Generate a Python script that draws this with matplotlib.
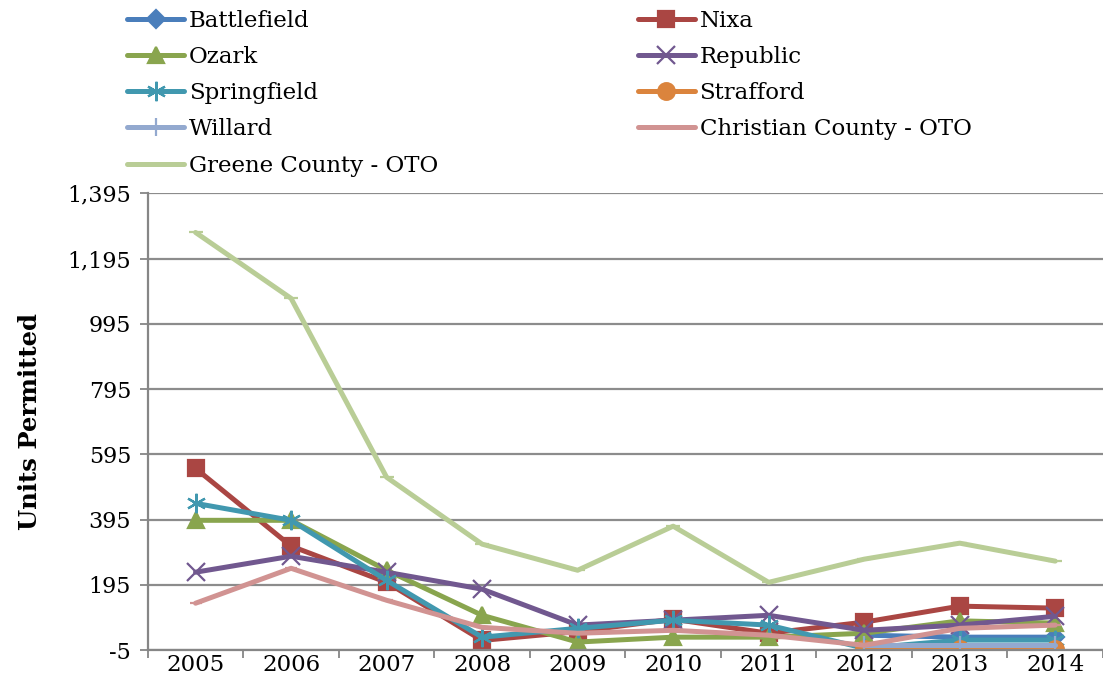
import numpy as np
import matplotlib
matplotlib.use("Agg")
import matplotlib.pyplot as plt

plt.rcParams['font.family'] = ['DejaVu Serif']

years = ['2005', '2006', '2007', '2008', '2009', '2010', '2011', '2012', '2013', '2014']
nan = np.nan

# units permitted per year
battlefield = [nan, nan, nan, nan, nan, nan, nan, 41, 35, 35]
nixa = [552, 314, 203, 25, 52, 90, 47, 81, 130, 124]
ozark = [393, 393, 240, 102, 20, 35, 35, 47, 85, 78]
republic = [234, 283, 234, 182, 72, 87, 102, 56, 72, 99]
springfield = [445, 393, 209, 35, 62, 87, 72, 1, 26, 26]
strafford = [nan, nan, nan, nan, nan, nan, nan, 0, 0, 0]
willard = [nan, nan, nan, nan, nan, nan, nan, 10, 10, 10]
christian = [139, 246, 148, 65, 47, 56, 41, 10, 62, 72]
greene = [1275, 1073, 525, 320, 240, 375, 203, 274, 323, 268]

series = [
    ('Battlefield', battlefield, '#4A7EBB', 'D', 9),
    ('Nixa', nixa, '#AA4643', 's', 11),
    ('Ozark', ozark, '#89A54E', '^', 11),
    ('Republic', republic, '#71588F', 'x', 13),
    ('Springfield', springfield, '#4198AF', (6, 2, 0), 14),
    ('Strafford', strafford, '#DB843D', 'o', 12),
    ('Willard', willard, '#93A9CF', '|', 13),
    ('Christian County - OTO', christian, '#D19392', '_', 8),
    ('Greene County - OTO', greene, '#B9CD96', '_', 10),
]

fig = plt.figure(figsize=(11.03, 6.83), dpi=100)
ax = fig.add_axes([0.134, 0.048, 0.866, 0.669])
x = np.arange(len(years))

lines = {}
for name, vals, c, m, ms in series:
    ln, = ax.plot(x, vals, color=c, lw=3.6, marker=m, markersize=ms,
                  markeredgecolor=c, markerfacecolor=c, markeredgewidth=1.6,
                  label=name, solid_capstyle='round')
    lines[name] = ln

ax.set_ylim(-5, 1395)
ax.set_yticks(np.arange(-5, 1396, 200))
ax.set_yticklabels(['{:,}'.format(v) for v in range(-5, 1396, 200)])
ax.set_xlim(-0.5, len(years) - 0.5)
ax.set_xticks(x)
ax.set_xticklabels(years)
ax.set_xticks(np.arange(-0.5, len(years), 1), minor=True)
ax.tick_params(axis='x', which='major', length=0, labelsize=16.5, pad=3)
ax.tick_params(axis='x', which='minor', length=6, color='#868686', width=1.3)
ax.tick_params(axis='y', length=6, color='#868686', width=1.3, labelsize=16, pad=6)
ax.grid(axis='y', color='#8C8C8C', lw=1.6)
ax.set_axisbelow(True)
for s in ['top', 'right']:
    ax.spines[s].set_visible(False)
ax.spines['left'].set_color('#868686')
ax.spines['left'].set_linewidth(1.6)
ax.spines['bottom'].set_color('#868686')
ax.spines['bottom'].set_linewidth(1.6)
ax.set_ylabel('Units Permitted', fontsize=17.5, fontweight='bold', labelpad=18)

# legend filled row by row like the original
order = ['Battlefield', 'Ozark', 'Springfield', 'Willard', 'Greene County - OTO',
         'Nixa', 'Republic', 'Strafford', 'Christian County - OTO']
fig.legend([lines[n] for n in order], order, loc='upper left',
           bbox_to_anchor=(0.107, 0.999), ncol=2, frameon=False,
           fontsize=16.5, handlelength=2.5, handletextpad=0.2, columnspacing=8.7,
           labelspacing=0.62, borderaxespad=0)

fig.savefig('out.png', dpi=100)
